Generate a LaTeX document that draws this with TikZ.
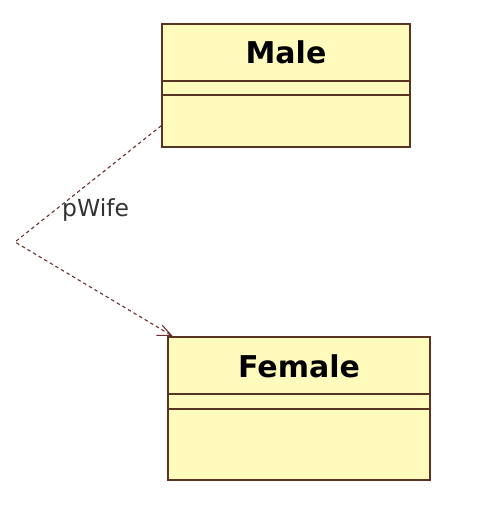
\documentclass[tikz,border=0pt]{standalone}
\usepackage{fontspec}
\setmainfont{DejaVu Sans}
\usetikzlibrary{arrows.meta,calc}
\definecolor{boxline}{HTML}{5A3422}
\definecolor{boxfill}{HTML}{FFFBBD}
\definecolor{linkcol}{HTML}{6A3030}
\definecolor{labelcol}{HTML}{333333}
\tikzset{
  umlclass/.style={draw=boxline, fill=boxfill, line width=1.3pt, rectangle, inner sep=0pt},
  classtitle/.style={font=\bfseries\fontsize{30}{36}\selectfont, text=black, inner sep=0pt},
  link/.style={draw=linkcol, line width=1.1pt, dash pattern=on 3.5pt off 3pt},
  linklabel/.style={font=\fontsize{23.5}{28}\selectfont, text=labelcol, inner sep=0pt},
}
\begin{document}
\begin{tikzpicture}[x=1pt,y=-1pt]
\useasboundingbox (0,0) rectangle (481,516);
% Male class
\node[umlclass, minimum width=248pt, minimum height=123pt] (male) at (286,85.5) {};
\draw[boxline, line width=1.3pt] (162,81) -- (410,81) (162,95) -- (410,95);
\node[classtitle] (maletitle) at (286,52.5) {Male};
% Female class
\node[umlclass, minimum width=262pt, minimum height=143pt] (female) at (299,408.5) {};
\draw[boxline, line width=1.3pt] (168,394) -- (430,394) (168,409) -- (430,409);
\node[classtitle] (femaletitle) at (299,366) {Female};
% association
\coordinate (start) at ($(male.south west)+(0,-22)$);
\coordinate (bend) at (15,242);
\coordinate (tip) at ($(female.north west)+(4,-1)$);
\draw[link] (start) -- (bend) -- (tip);
\draw[linkcol, line width=1.1pt] ($(tip)+(-15,0)$) -- (tip) -- ($(tip)+(-9,-10)$);
\node[linklabel, anchor=west] (lbl) at (62,210.5) {pWife};
\end{tikzpicture}
\end{document}
